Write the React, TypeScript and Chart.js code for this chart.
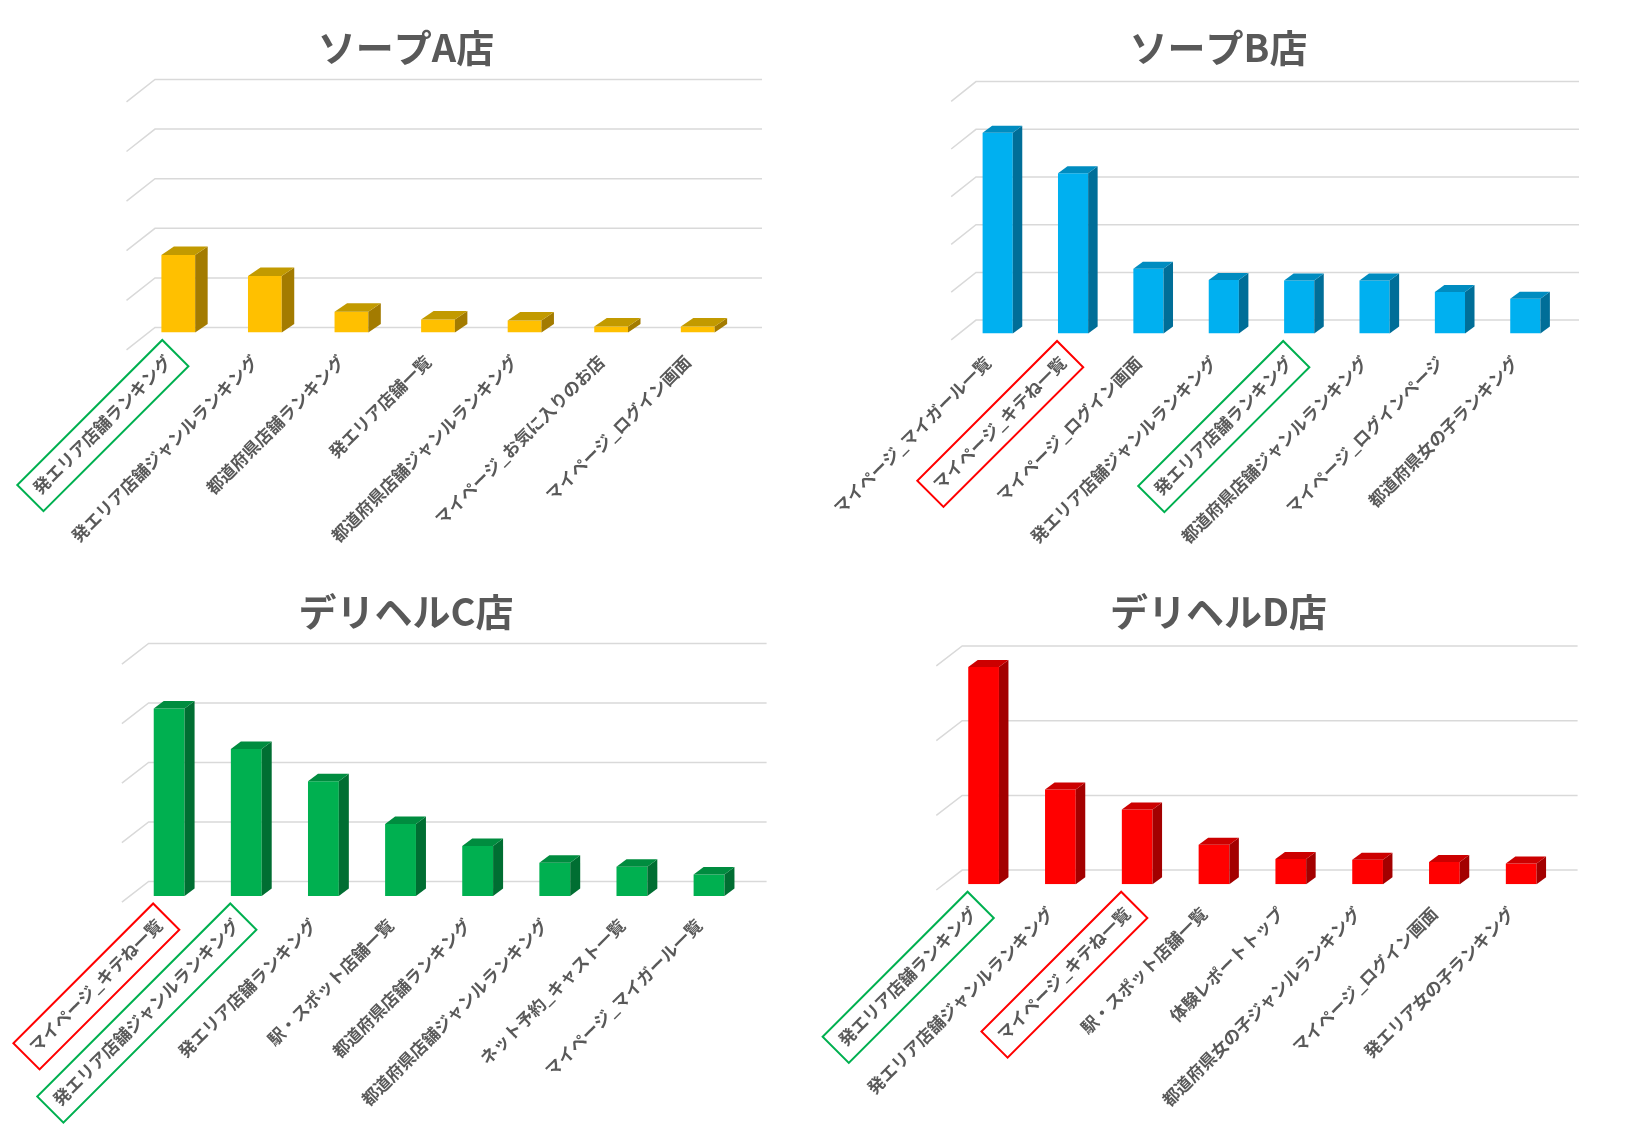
import React, { useEffect, useRef } from "react";
import { Chart, registerables } from "chart.js";

Chart.register(...registerables);

// ---- data ----
const titleA = "ソープA店";
const labelsA = [
  "発エリア店舗ランキング",
  "発エリア店舗ジャンルランキング",
  "都道府県店舗ランキング",
  "発エリア店舗一覧",
  "都道府県店舗ジャンルランキング",
  "マイページ_お気に入りのお店",
  "マイページ_ログイン画面",
];
const valuesA = [15.6, 11.4, 4.2, 2.6, 2.4, 1.2, 1.2];

const titleB = "ソープB店";
const labelsB = [
  "マイページ_マイガール一覧",
  "マイページ_キテね一覧",
  "マイページ_ログイン画面",
  "発エリア店舗ジャンルランキング",
  "発エリア店舗ランキング",
  "都道府県店舗ジャンルランキング",
  "マイページ_ログインページ",
  "都道府県女の子ランキング",
];
const valuesB = [42.1, 33.6, 13.6, 11.2, 11.1, 11.1, 8.7, 7.3];

const titleC = "デリヘルC店";
const labelsC = [
  "マイページ_キテね一覧",
  "発エリア店舗ジャンルランキング",
  "発エリア店舗ランキング",
  "駅・スポット店舗一覧",
  "都道府県店舗ランキング",
  "都道府県店舗ジャンルランキング",
  "ネット予約_キャスト一覧",
  "マイページ_マイガール一覧",
];
const valuesC = [31.5, 24.7, 19.3, 12.1, 8.4, 5.6, 4.9, 3.6];

const titleD = "デリヘルD店";
const labelsD = [
  "発エリア店舗ランキング",
  "発エリア店舗ジャンルランキング",
  "マイページ_キテね一覧",
  "駅・スポット店舗一覧",
  "体験レポートトップ",
  "都道府県女の子ジャンルランキング",
  "マイページ_ログイン画面",
  "発エリア女の子ランキング",
];
const valuesD = [29.1, 12.7, 10.0, 5.3, 3.4, 3.3, 3.0, 2.8];

// axis ranges (gridline steps)
const axisMaxA = 50;
const axisMaxB = 50;
const axisMaxC = 40;
const axisMaxD = 30;
const axisStep = 10;

// highlighted labels: [index, colour]
const GREEN = "#00B050";
const RED = "#FF0000";
const boxesA: [number, string][] = [[0, GREEN]];
const boxesB: [number, string][] = [[1, RED], [4, GREEN]];
const boxesC: [number, string][] = [[0, RED], [1, GREEN]];
const boxesD: [number, string][] = [[0, GREEN], [2, RED]];

const FONT = '"Noto Sans CJK JP", "Noto Sans", sans-serif';
const TEXT = "#595959";
const GRID = "#D9D9D9";

type Geom = {
  x: number; y: number; w: number; h: number;
  left: number; right: number; top: number; bottom: number; titleY: number;
  gy: number; gxL: number; gxR: number; sx: number; sy: number;
  dx: number; dy: number; barPct: number;
};

type Props = {
  title: string;
  labels: string[];
  values: number[];
  max: number;
  boxes: [number, string][];
  colors: { front: string; top: string; side: string };
  g: Geom;
};

const BarChart3D: React.FC<Props> = ({ title, labels, values, max, boxes, colors, g }) => {
  const ref = useRef<HTMLCanvasElement | null>(null);

  useEffect(() => {
    if (!ref.current) return;
    const ctx = ref.current.getContext("2d");
    if (!ctx) return;

    const titleSize = 38;
    const titleLH = titleSize * 1.2;
    const padTop = g.titleY - titleLH / 2;

    // back wall + side wall gridlines
    const wall = {
      id: "wall",
      beforeDatasetsDraw(chart: any) {
        const { ctx, chartArea } = chart;
        const ys = chart.scales.y;
        ctx.save();
        ctx.strokeStyle = GRID;
        ctx.lineWidth = 1.5;
        for (const t of ys.ticks) {
          const y = ys.getPixelForValue(t.value) + g.gy;
          const x0 = chartArea.left + g.gxL;
          ctx.beginPath();
          ctx.moveTo(x0 + g.sx, y + g.sy);
          ctx.lineTo(x0, y);
          ctx.lineTo(chartArea.right + g.gxR, y);
          ctx.stroke();
        }
        ctx.restore();
      },
    };

    // side and top faces of each column
    const depth = {
      id: "depth",
      afterDatasetsDraw(chart: any) {
        const { ctx } = chart;
        const meta = chart.getDatasetMeta(0);
        ctx.save();
        for (const bar of meta.data) {
          const { x, y, base, width } = bar.getProps(["x", "y", "base", "width"], true);
          const l = x - width / 2;
          const r = x + width / 2;
          ctx.fillStyle = colors.side;
          ctx.beginPath();
          ctx.moveTo(r, y);
          ctx.lineTo(r + g.dx, y + g.dy);
          ctx.lineTo(r + g.dx, base + g.dy);
          ctx.lineTo(r, base);
          ctx.closePath();
          ctx.fill();
          ctx.fillStyle = colors.top;
          ctx.beginPath();
          ctx.moveTo(l, y);
          ctx.lineTo(l + g.dx, y + g.dy);
          ctx.lineTo(r + g.dx, y + g.dy);
          ctx.lineTo(r, y);
          ctx.closePath();
          ctx.fill();
        }
        ctx.restore();
      },
    };

    // coloured frames round some tick labels
    const labelBoxes = {
      id: "labelBoxes",
      afterDraw(chart: any) {
        const { ctx } = chart;
        const items = chart.scales.x.getLabelItems();
        for (const [idx, color] of boxes) {
          const it = items[idx];
          if (!it) continue;
          const o = it.options;
          ctx.save();
          ctx.translate(o.translation[0], o.translation[1]);
          ctx.rotate(o.rotation);
          ctx.font = it.font.string;
          const tw = ctx.measureText(String(it.label)).width;
          let x0 = -tw;
          if (o.textAlign === "left") x0 = 0;
          if (o.textAlign === "center") x0 = -tw / 2;
          const padX = 9;
          const bh = 37;
          ctx.strokeStyle = color;
          ctx.lineWidth = 2;
          ctx.strokeRect(x0 - padX, it.textOffset - bh / 2 + 1, tw + padX * 2, bh);
          ctx.restore();
        }
      },
    };

    const chart = new Chart(ctx, {
      type: "bar",
      data: {
        labels,
        datasets: [
          {
            data: values,
            backgroundColor: colors.front,
            barPercentage: g.barPct,
            categoryPercentage: 1,
          },
        ],
      },
      options: {
        animation: false,
        responsive: false,
        layout: { padding: 0 },
        plugins: {
          legend: { display: false },
          tooltip: { enabled: false },
          title: {
            display: true,
            text: title,
            color: TEXT,
            font: { family: FONT, size: titleSize, weight: "bold" },
            padding: { top: padTop, bottom: g.top - padTop - titleLH },
          },
        },
        scales: {
          x: {
            grid: { display: false, drawTicks: false },
            border: { display: false },
            ticks: {
              autoSkip: false,
              minRotation: 45,
              maxRotation: 45,
              padding: 19,
              labelOffset: -10,
              color: TEXT,
              font: { family: FONT, size: 17, weight: "bold" },
            },
            afterFit: (s: any) => {
              s.height = g.h - g.bottom;
            },
          },
          y: {
            min: 0,
            max,
            ticks: { display: false, stepSize: axisStep },
            grid: { display: false },
            border: { display: false },
            afterFit: (s: any) => {
              s.width = g.left;
            },
          },
          y2: {
            position: "right",
            ticks: { display: false },
            grid: { display: false },
            border: { display: false },
            afterFit: (s: any) => {
              s.width = g.w - g.right;
            },
          },
        },
      },
      plugins: [wall, depth, labelBoxes],
    });

    return () => {
      chart.destroy();
    };
  }, [title, labels, values, max, boxes, colors, g]);

  return (
    <canvas
      ref={ref}
      width={g.w}
      height={g.h}
      style={{ position: "absolute", left: g.x, top: g.y, width: g.w, height: g.h }}
    />
  );
};

// ---- layout / styles ----
const geomA: Geom = {
  x: 0, y: 0, w: 812, h: 560,
  left: 135, right: 741, top: 84.5, bottom: 332.5, titleY: 48,
  gy: -5, gxL: 20, gxR: 21, sx: -28.5, sy: 22.4, dx: 12.5, dy: -8.5, barPct: 0.39,
};
const geomB: Geom = {
  x: 812, y: 0, w: 813, h: 560,
  left: 148, right: 751, top: 95, bottom: 333.5, titleY: 48,
  gy: -13.4, gxL: 16, gxR: 16, sx: -24.8, sy: 19.7, dx: 9.5, dy: -7, barPct: 0.4,
};
const geomC: Geom = {
  x: 0, y: 560, w: 812, h: 565,
  left: 130.6, right: 747.6, top: 98, bottom: 336, titleY: 52,
  gy: -14.6, gxL: 18, gxR: 19, sx: -26.7, sy: 20.7, dx: 10, dy: -7.5, barPct: 0.4,
};
const geomD: Geom = {
  x: 812, y: 560, w: 813, h: 565,
  left: 133.2, right: 747.6, top: 100.2, bottom: 324.3, titleY: 52,
  gy: -14.2, gxL: 17, gxR: 18, sx: -25.9, sy: 19.9, dx: 9.5, dy: -7, barPct: 0.4,
};

const colorsA = { front: "#FFC000", top: "#C29A00", side: "#A37B00" };
const colorsB = { front: "#00B0F0", top: "#008CC0", side: "#006E98" };
const colorsC = { front: "#00B050", top: "#008C3F", side: "#006E32" };
const colorsD = { front: "#FF0000", top: "#CC0000", side: "#A30000" };

export default function App() {
  return (
    <div
      style={{
        position: "absolute",
        left: 0,
        top: 0,
        width: 1625,
        height: 1125,
        background: "#ffffff",
        overflow: "hidden",
      }}
    >
      <BarChart3D title={titleA} labels={labelsA} values={valuesA} max={axisMaxA} boxes={boxesA} colors={colorsA} g={geomA} />
      <BarChart3D title={titleB} labels={labelsB} values={valuesB} max={axisMaxB} boxes={boxesB} colors={colorsB} g={geomB} />
      <BarChart3D title={titleC} labels={labelsC} values={valuesC} max={axisMaxC} boxes={boxesC} colors={colorsC} g={geomC} />
      <BarChart3D title={titleD} labels={labelsD} values={valuesD} max={axisMaxD} boxes={boxesD} colors={colorsD} g={geomD} />
    </div>
  );
}
